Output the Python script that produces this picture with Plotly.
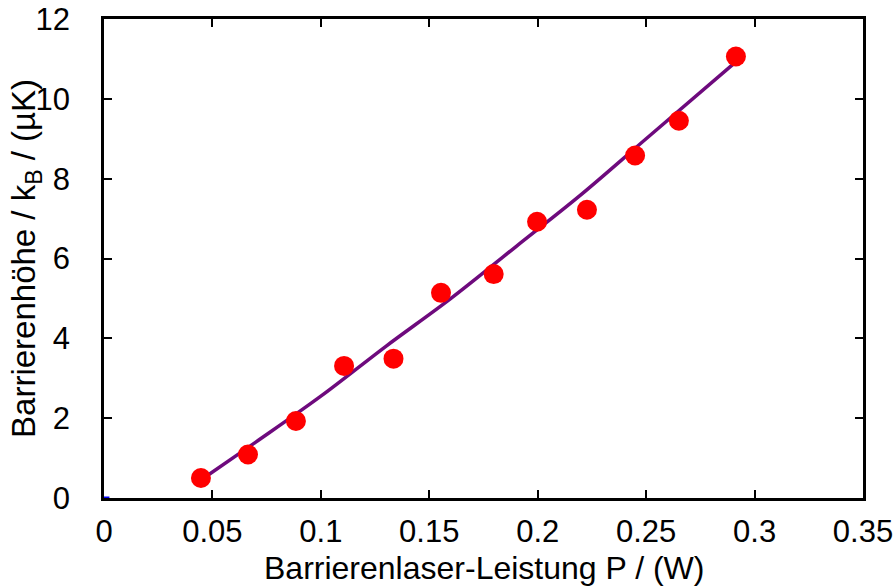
import plotly.graph_objects as go

# measured data
power_w = [0.0447, 0.0664, 0.0885, 0.1107, 0.1335, 0.1554, 0.1797, 0.1997, 0.2227, 0.2449, 0.2651, 0.2914]
barrier_uk = [0.50, 1.09, 1.93, 3.31, 3.49, 5.14, 5.61, 6.92, 7.22, 8.58, 9.45, 11.06]

# fitted curve
fit_p = [0.0447, 0.07, 0.10, 0.13, 0.16, 0.19, 0.22, 0.25, 0.2919]
fit_y = [0.45, 1.40, 2.55, 3.80, 5.00, 6.30, 7.60, 9.00, 10.95]

origin_x = [0.0, 0.0025]
origin_y = [0.0, 0.0]

x_ticks = [0, 0.05, 0.1, 0.15, 0.2, 0.25, 0.3, 0.35]
x_ticktext = ["0", "0.05", "0.1", "0.15", "0.2", "0.25", "0.3", "0.35"]
y_ticks = [0, 2, 4, 6, 8, 10, 12]

x_title = "Barrierenlaser-Leistung P / (W)"
y_title = "Barrierenhöhe / k<sub>B</sub> / (µK)"

FONT = "Liberation Sans, Arial, sans-serif"

fig = go.Figure()
fig.add_trace(go.Scatter(x=origin_x, y=origin_y, mode="lines",
                         line=dict(color="#0000ff", width=3),
                         showlegend=False, hoverinfo="skip", cliponaxis=False))
fig.add_trace(go.Scatter(x=fit_p, y=fit_y, mode="lines",
                         line=dict(color="#6e0a7d", width=3.5, shape="spline"),
                         showlegend=False))
fig.add_trace(go.Scatter(x=power_w, y=barrier_uk, mode="markers",
                         marker=dict(color="#ff0000", size=20, line=dict(width=0)),
                         showlegend=False, cliponaxis=False))

axis_common = dict(
    showline=True, linecolor="black", linewidth=2.5, mirror="ticks",
    ticks="inside", ticklen=8, tickwidth=2, tickcolor="black",
    showgrid=False, zeroline=False, automargin=False,
    tickfont=dict(family=FONT, size=31, color="black"),
)

fig.update_layout(
    width=896, height=587,
    margin=dict(l=104, r=33, t=19, b=89),
    paper_bgcolor="white", plot_bgcolor="white",
    font=dict(family=FONT, color="black"),
    xaxis=dict(range=[0, 0.35], tickvals=x_ticks, ticktext=x_ticktext,
               ticklabelstandoff=4, **axis_common),
    yaxis=dict(range=[0, 12], tickvals=y_ticks, ticklabelstandoff=25,
               **axis_common),
    annotations=[
        dict(text=x_title, xref="paper", yref="paper", x=0.5, y=-0.146,
             xanchor="center", yanchor="middle", showarrow=False,
             font=dict(family=FONT, size=32, color="black")),
        dict(text=y_title, xref="paper", yref="paper", x=-0.1035, y=0.5,
             xanchor="center", yanchor="middle", showarrow=False, textangle=-90,
             font=dict(family=FONT, size=33, color="black")),
    ],
)

fig.write_html("out.html")
